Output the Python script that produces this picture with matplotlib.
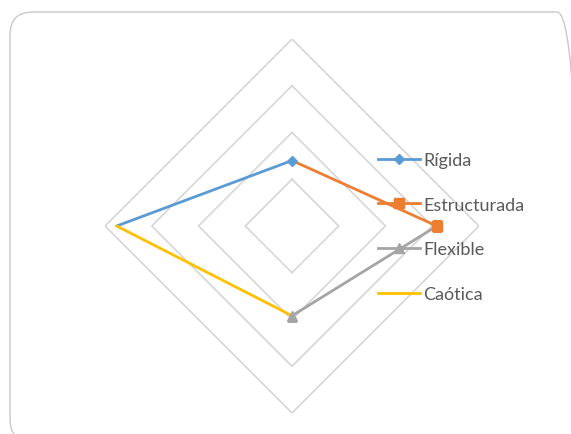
import numpy as np
import matplotlib
matplotlib.use("Agg")
import matplotlib.pyplot as plt
from matplotlib.patches import FancyBboxPatch

# radar axes, clockwise from the top
axis_angles = np.array([0, 90, 180, 270])
ring_levels = [1, 2, 3, 4]

# each family type only touches two adjacent axes
series_names = ["Rígida", "Estructurada", "Flexible", "Caótica"]
series_axes = [[3, 0], [0, 1], [1, 2], [2, 3]]
series_values = [[3.75, 1.4], [1.4, 3.1], [3.1, 1.92], [1.92, 3.75]]
series_colors = ["#5B9BD5", "#ED7D31", "#A5A5A5", "#FFC000"]
series_markers = ["D", "s", "^", None]
marker_point = [1, 1, 1, None]

plt.rcParams["font.family"] = ["Lato", "DejaVu Sans"]

fig = plt.figure(figsize=(5.71, 4.35), dpi=100)

# rounded chart border
border = FancyBboxPatch((10 / 571, -8 / 435), 570 / 571, 430 / 435,
                        boxstyle="round,pad=0,rounding_size=0.04",
                        transform=fig.transFigure, facecolor="none",
                        edgecolor="#C9C9C9", linewidth=1.0, clip_on=False,
                        mutation_aspect=571 / 435)
fig.patches.append(border)

ax = fig.add_axes([105 / 571, 1 - 414 / 435, 374 / 571, 374 / 435], projection="polar")
ax.set_theta_offset(np.pi / 2)
ax.set_theta_direction(-1)
ax.set_ylim(0, 4)
ax.grid(False)
ax.set_xticks([])
ax.set_yticks([])
ax.spines["polar"].set_visible(False)
ax.patch.set_alpha(0)

theta = np.deg2rad(axis_angles)
theta_closed = np.append(theta, theta[0])
for level in ring_levels:
    ax.plot(theta_closed, [level] * len(theta_closed), color="#D6D6D6",
            linewidth=1.2, zorder=1)

for name, idx, vals, col, mk, mp in zip(series_names, series_axes, series_values,
                                        series_colors, series_markers, marker_point):
    t = theta[idx]
    ax.plot(t, vals, color=col, linewidth=2.0, zorder=3, solid_capstyle="round")
    if mk is not None:
        ax.plot([t[mp]], [vals[mp]], marker=mk, color=col, markersize=7 if mk != "D" else 5,
                linestyle="none", zorder=4)

# legend entries drawn as proxies
handles = []
for name, col, mk in zip(series_names, series_colors, series_markers):
    h, = ax.plot([], [], color=col, linewidth=2.0, marker=mk,
                 markersize=7 if mk != "D" else 5)
    handles.append(h)
leg = fig.legend(handles, series_names, loc="upper left",
                 bbox_to_anchor=(362 / 571, 1 - 137 / 435), frameon=False,
                 fontsize=13, handlelength=2.3, handletextpad=0.2,
                 labelspacing=1.58, labelcolor="#595959")

fig.savefig("out.png", dpi=100)
